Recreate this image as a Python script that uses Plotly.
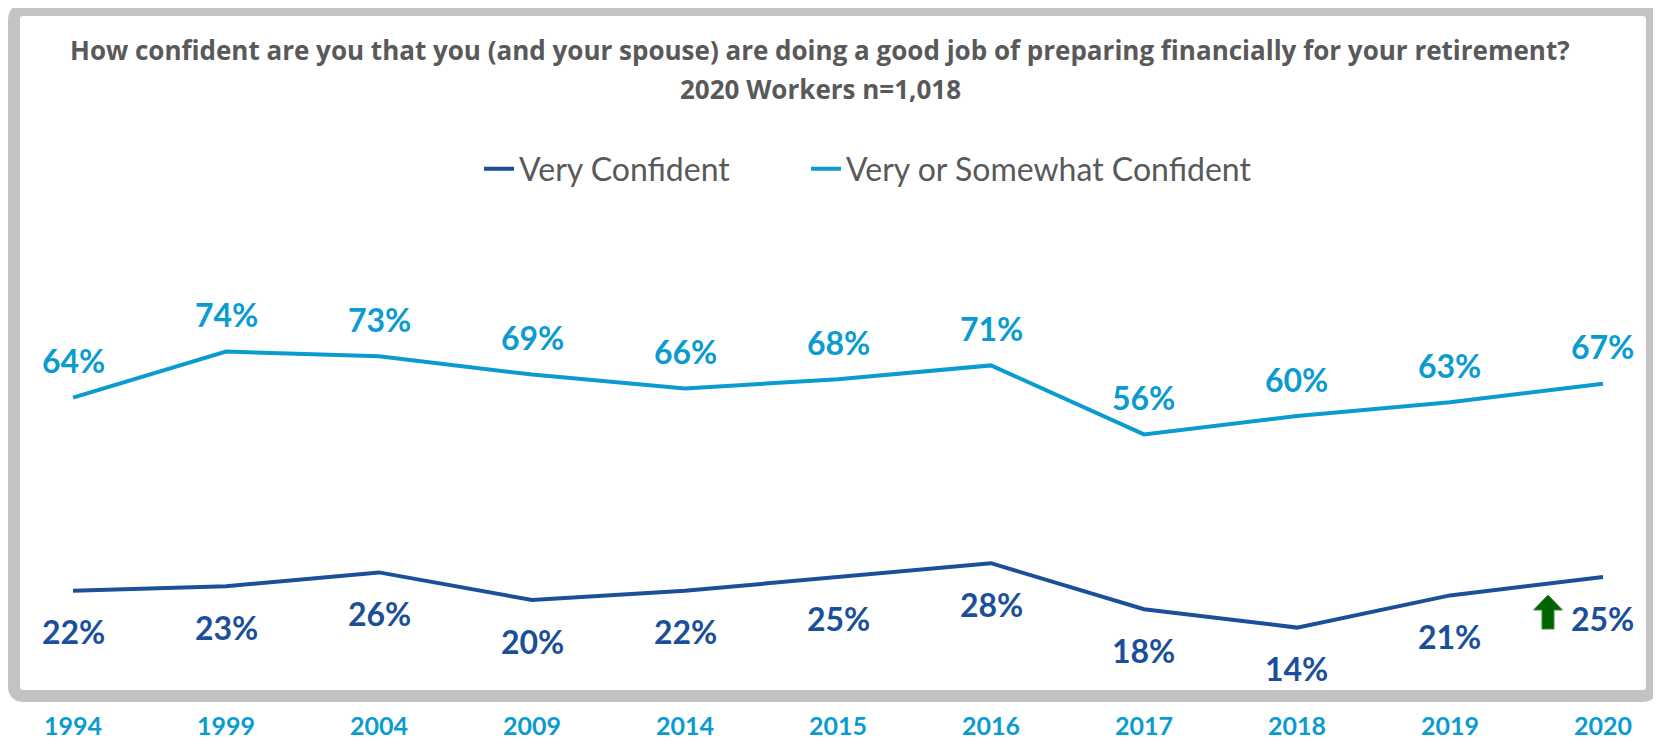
"""Retirement confidence line chart, 1994-2020."""

import plotly.graph_objects as go

years = ["1994", "1999", "2004", "2009", "2014", "2015", "2016", "2017", "2018", "2019", "2020"]
very_confident = [22, 23, 26, 20, 22, 25, 28, 18, 14, 21, 25]
somewhat_confident = [64, 74, 73, 69, 66, 68, 71, 56, 60, 63, 67]

_DARK = "#1B4F99"
_LIGHT = "#0A9BD0"
_GRAY = "#595959"
_FRAME = "#C4C2C5"
_FONT = "Lato"

OFF = 8  # page body margin
W, H = 1653, 734
L, R, T, B = 12, 12, 224, 50
PW, PH = W - L - R, H - T - B


def px_x(p):
    return (p - OFF - L) / PW


def px_y(p):
    return (H - B - (p - OFF)) / PH


fig = go.Figure()
fig.add_trace(go.Scatter(
    x=years, y=very_confident, mode="lines", name="Very Confident",
    line={"color": _DARK, "width": 4}, legend="legend",
))
fig.add_trace(go.Scatter(
    x=years, y=somewhat_confident, mode="lines", name="Very or Somewhat Confident",
    line={"color": _LIGHT, "width": 4}, legend="legend2",
))

annotations = []
for i, v in enumerate(very_confident):
    annotations.append(dict(
        x=i, y=v, xref="x", yref="y", text=f"{v}%", showarrow=False,
        yshift=-41, yanchor="middle",
        font={"family": _FONT, "size": 32, "color": _DARK, "weight": "bold"},
    ))
for i, v in enumerate(somewhat_confident):
    annotations.append(dict(
        x=i, y=v, xref="x", yref="y", text=f"{v}%", showarrow=False,
        yshift=37, yanchor="middle",
        font={"family": _FONT, "size": 32, "color": _LIGHT, "weight": "bold"},
    ))

title_font = {"family": "Open Sans", "size": 26, "color": _GRAY, "weight": "bold"}
annotations.append(dict(
    x=px_x(820), y=px_y(50), xref="paper", yref="paper", showarrow=False,
    text="How confident are you that you (and your spouse) are doing a good job of preparing financially for your retirement?",
    font=title_font, xanchor="center", yanchor="middle",
))
annotations.append(dict(
    x=px_x(820), y=px_y(89), xref="paper", yref="paper", showarrow=False,
    text="2020 Workers n=1,018",
    font=title_font, xanchor="center", yanchor="middle",
))

# rounded frame
x0, x1 = px_x(14), px_x(1652)
y0, y1 = px_y(696), px_y(10)
rx, ry = 10 / PW, 10 / PH
frame_path = (
    f"M{x0 + rx},{y1} L{x1 - rx},{y1} Q{x1},{y1} {x1},{y1 - ry} "
    f"L{x1},{y0 + ry} Q{x1},{y0} {x1 - rx},{y0} "
    f"L{x0 + rx},{y0} Q{x0},{y0} {x0},{y0 + ry} "
    f"L{x0},{y1 - ry} Q{x0},{y1} {x0 + rx},{y1} Z"
)
shapes = [dict(
    type="path", xref="paper", yref="paper", path=frame_path,
    line={"color": _FRAME, "width": 12}, layer="above",
)]

# green up arrow next to the 2020 "Very Confident" value
shapes.append(dict(
    type="path", xref="x", yref="y", xsizemode="pixel", ysizemode="pixel",
    xanchor=len(years) - 1, yanchor=very_confident[-1],
    path="M-55,-18 L-40.5,-33 L-49,-33 L-49,-52 L-61,-52 L-61,-33 L-69.5,-33 Z",
    fillcolor="#006400", line={"color": "#3C8C3C", "width": 1},
))

legend_font = {"family": _FONT, "size": 32, "color": _GRAY}
fig.update_layout(
    width=W, height=H,
    margin={"l": L, "r": R, "t": T, "b": B, "autoexpand": False},
    paper_bgcolor="white", plot_bgcolor="white",
    showlegend=True,
    legend={
        "orientation": "h", "x": px_x(484 - 5), "y": px_y(169),
        "xanchor": "left", "yanchor": "middle", "font": legend_font,
    },
    legend2={
        "orientation": "h", "x": px_x(811 - 5), "y": px_y(169),
        "xanchor": "left", "yanchor": "middle", "font": legend_font,
    },
    xaxis={
        "type": "category", "range": [-0.3464, 10.3007], "automargin": False,
        "showgrid": False, "zeroline": False, "showline": False,
        "ticks": "outside", "ticklen": 12, "tickcolor": "rgba(0,0,0,0)",
        "tickfont": {"family": _FONT, "size": 25, "color": _LIGHT, "weight": "bold"},
    },
    yaxis={
        "range": [0, 100], "automargin": False,
        "showgrid": False, "zeroline": False, "showline": False,
        "showticklabels": False, "ticks": "",
    },
    annotations=annotations,
    shapes=shapes,
)

fig.write_html("out.html")
